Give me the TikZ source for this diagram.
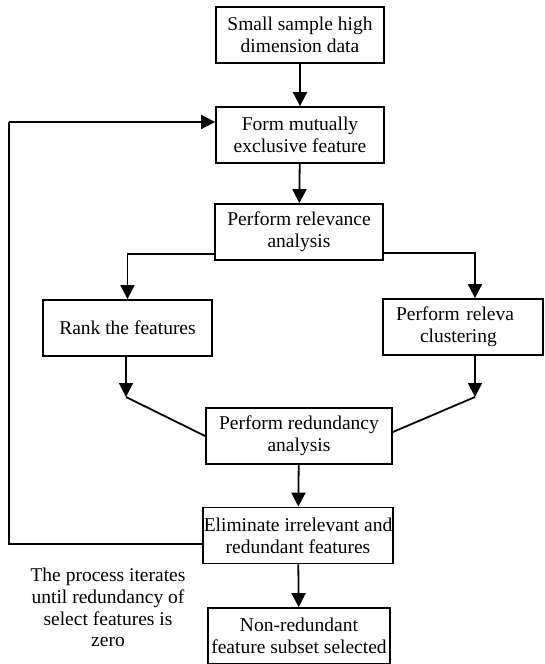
\documentclass[tikz,border=0pt]{standalone}
\usepackage{fontspec}
\setmainfont{Liberation Serif}
\usetikzlibrary{arrows.meta}

\begin{document}
\begin{tikzpicture}[
	x=1pt, y=-1pt,
	block/.style={rectangle, draw, line width=1.8pt, align=center, inner sep=0pt,
		minimum height=56pt, font=\fontsize{19.5}{21.7}\selectfont},
	line/.style={line width=1.8pt},
	arrow/.style={line width=1.8pt, -{Triangle[length=14pt,width=14pt]}}
	]
	\useasboundingbox (0,0) rectangle (545,664);
	
	% Main column
	\node[block, minimum width=168pt] (data) at (300,35) {Small sample high\\dimension data};
	\node[block, minimum width=168pt] (form) at (300,135) {Form mutually\\exclusive feature};
	\node[block, minimum width=168pt] (relev) at (299,232) {Perform relevance\\analysis};
	
	% Two branches
	\node[block, minimum width=169pt] (rank) at (127.5,328) {Rank the features};
	\node[block, minimum width=160pt, text width=134pt, inner xsep=13pt, align=left] (clus) at (463,327)
		{Perform releva\\\hspace*{24pt}clustering};
	
	% Lower column
	\node[block, minimum width=186pt] (redund) at (299,436) {Perform redundancy\\analysis};
	\node[block, minimum width=190pt] (elim) at (298,535.5) {Eliminate irrelevant and\\redundant features};
	\node[block, minimum width=182pt] (subset) at (299,636) {Non-redundant\\feature subset selected};
	
	% Note
	\node[align=center, font=\fontsize{19.5}{21.7}\selectfont] (note) at (108,607.5)
		{The process iterates\\until redundancy of\\select features is\\zero};
	
	% Joints
	\coordinate (rankend) at (126,397);
	\coordinate (clusend) at (475,397);
	\coordinate (loopbot) at (9,544);
	\coordinate (looptop) at (9,122);
	
	% Connections
	\draw[arrow] (data) -- (form);
	\draw[arrow] (form) -- (relev);
	\draw[arrow] ([yshift=-22pt]relev.west) -| (rank.north);
	\draw[arrow] ([yshift=-21pt]relev.east) -| (clusend |- clus.north);
	\draw[arrow] (rank.south -| rankend) -- (rankend);
	\draw[arrow] (clus.south -| clusend) -- (clusend);
	\draw[line] (rankend) -- (redund.west);
	\draw[line] (clusend) -- ([yshift=4pt]redund.east);
	\draw[arrow] (redund) -- (elim);
	\draw[arrow] (elim) -- (subset);
	\draw[line] ([yshift=-8.5pt]elim.west) -- (loopbot) -- (looptop);
	\draw[arrow] (looptop) -- (looptop -| form.west);
\end{tikzpicture}
\end{document}
